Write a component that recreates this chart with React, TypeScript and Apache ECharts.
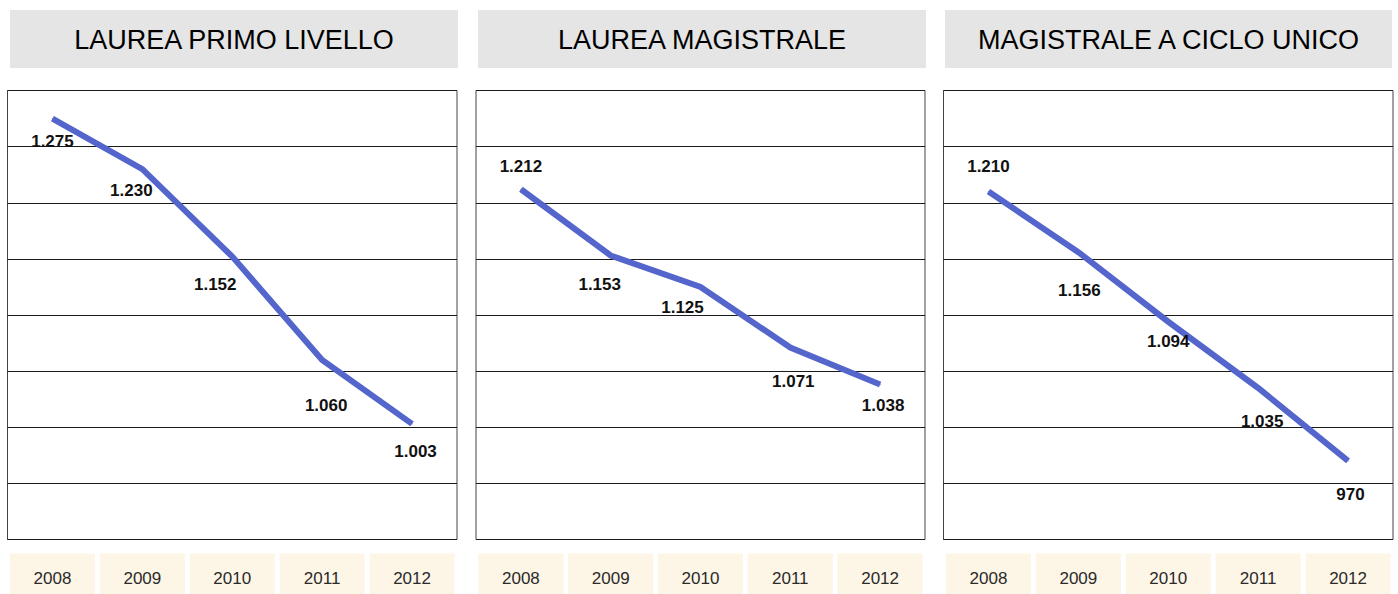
import React, { useEffect, useRef } from "react";
import * as echarts from "echarts";

// ---- data ----
const categories = ["2008", "2009", "2010", "2011", "2012"];
const panelTitles = ["LAUREA PRIMO LIVELLO", "LAUREA MAGISTRALE", "MAGISTRALE A CICLO UNICO"];
const primoLivello = [1275, 1230, 1152, 1060, 1003];
const magistrale = [1212, 1153, 1125, 1071, 1038];
const cicloUnico = [1210, 1156, 1094, 1035, 970];
const yMin = 900;
const yMax = 1300;
const yStep = 50;

// ---- layout / style (not data) ----
const panels = [
  { boxLeft: 7.5, boxWidth: 449.5, headLeft: 10, headWidth: 448 },
  { boxLeft: 476, boxWidth: 449, headLeft: 478, headWidth: 448 },
  { boxLeft: 943.5, boxWidth: 449.5, headLeft: 945, headWidth: 447 },
];
const labelOffsets = [
  [[0, 23], [-11, 21], [-17, 28], [4, 46], [3.5, 28]],
  [[0, -23], [-11, 28.5], [-18, 21], [3, 33.5], [3, 21]],
  [[0, -25], [1, 38], [0, 20], [4, 34], [2.5, 34]],
];
const FONT = "'Liberation Sans', Arial, Helvetica, sans-serif";
const LINE_COLOR = "#5466cc";

const fmt = (v: number) => String(v).replace(/\B(?=(\d{3})+(?!\d))/g, ".");

export default function App() {
  const ref = useRef<HTMLDivElement>(null);

  useEffect(() => {
    if (!ref.current) return;
    const chart = echarts.init(ref.current, null, { renderer: "svg" });
    const seriesData = [primoLivello, magistrale, cicloUnico];
    const top = 90.5;
    const height = 449;

    const grids = panels.map((p) => ({
      left: p.boxLeft,
      top,
      width: p.boxWidth,
      height,
      show: true,
      containLabel: false,
      outerBoundsMode: "none",
      borderColor: "#444",
      borderWidth: 1,
      backgroundColor: "#fff",
    }));

    const xAxes = panels.map((_, i) => ({
      type: "category",
      gridIndex: i,
      data: categories,
      boundaryGap: true,
      axisLine: { show: false },
      axisTick: { show: false },
      splitLine: { show: false },
      axisLabel: {
        interval: 0,
        margin: 14,
        formatter: "{c|{value}}",
        rich: {
          c: {
            backgroundColor: "#fdf5e6",
            width: 85,
            height: 50,
            lineHeight: 50,
            align: "center",
            fontSize: 17,
            fontFamily: FONT,
            color: "#2a2a2a",
          },
        },
      },
    }));

    const yAxes = panels.map((_, i) => ({
      type: "value",
      gridIndex: i,
      min: yMin,
      max: yMax,
      interval: yStep,
      axisLine: { show: false },
      axisTick: { show: false },
      axisLabel: { show: false },
      splitLine: { show: true, lineStyle: { color: "#1a1a1a", width: 1 } },
    }));

    const series = seriesData.map((vals, i) => ({
      type: "line",
      xAxisIndex: i,
      yAxisIndex: i,
      data: vals.map((v, j) => ({
        value: v,
        label: { offset: labelOffsets[i][j] },
      })),
      symbol: "circle",
      symbolSize: 1,
      itemStyle: { color: LINE_COLOR },
      lineStyle: { color: LINE_COLOR, width: 6, cap: "butt", join: "miter" },
      label: {
        show: true,
        position: "inside",
        align: "center",
        verticalAlign: "middle",
        formatter: (p: any) => fmt(p.value),
        fontSize: 17,
        fontWeight: "bold",
        fontFamily: FONT,
        color: "#111",
      },
      z: 3,
    }));

    const graphic: any[] = [];
    panels.forEach((p, i) => {
      graphic.push({
        type: "rect",
        shape: { x: p.headLeft, y: 10, width: p.headWidth, height: 58 },
        style: { fill: "#e5e5e5" },
        silent: true,
      });
      graphic.push({
        type: "text",
        style: {
          text: panelTitles[i],
          x: p.headLeft + p.headWidth / 2,
          y: 39.5,
          align: "center",
          verticalAlign: "middle",
          fontSize: 27,
          fontFamily: FONT,
          fill: "#000",
        },
        silent: true,
      });
    });

    chart.setOption({
      animation: false,
      backgroundColor: "#fff",
      grid: grids,
      xAxis: xAxes,
      yAxis: yAxes,
      series,
      graphic,
    });

    return () => chart.dispose();
  }, []);

  return (
    <div
      ref={ref}
      style={{ position: "absolute", left: 0, top: 0, width: 1398, height: 594 }}
    />
  );
}
